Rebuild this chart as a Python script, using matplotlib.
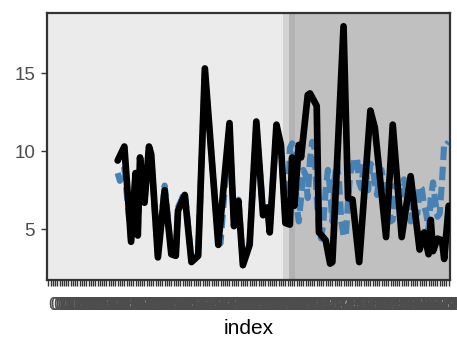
import matplotlib
matplotlib.use("Agg")
import matplotlib.pyplot as plt

plt.rcParams['font.family'] = ['Liberation Sans', 'DejaVu Sans']

n_categories = 180
tick_labels = [f"{i:03d}" for i in range(n_categories)]

black_x = [32, 35, 38, 40, 41, 42, 44, 46, 47, 50, 53, 56, 58, 59, 62, 65, 68, 71, 77, 82,
           84, 86, 88, 91, 94, 97, 99, 100, 103, 105, 107, 109, 110, 111, 113, 114, 117, 118,
           121, 122, 125, 127, 128, 133, 135, 137, 140, 145, 147, 152, 155, 159, 163, 167,
           169, 171, 172, 173, 175, 177, 178, 180]
black_y = [9.4, 10.3, 4.2, 8.6, 4.6, 9.6, 6.7, 10.3, 9.8, 3.2, 7.5, 3.4, 3.3, 6.2, 7.2, 2.9,
           3.3, 15.3, 4.0, 11.8, 5.2, 6.8, 2.7, 4.0, 11.9, 5.9, 6.4, 4.8, 11.7, 10.4, 5.4, 5.3,
           9.6, 6.5, 10.4, 9.6, 13.6, 13.7, 12.9, 4.8, 4.3, 2.8, 2.9, 18.0, 7.0, 6.9, 2.9,
           12.6, 11.5, 4.5, 11.7, 4.5, 8.4, 3.7, 4.8, 3.4, 5.6, 3.6, 4.4, 4.3, 3.1, 6.5]

blue_x = [32, 33, 35, 38, 40, 41, 42, 44, 46, 47, 50, 53, 56, 58, 59, 62, 65, 68, 71, 77, 78,
          82, 84, 86, 88, 91, 94, 97, 99, 100, 103, 105, 107,
          108, 109, 110, 111, 112, 113, 114, 115, 116, 117, 118, 119, 120, 121, 122, 123, 124,
          125, 126, 127, 128, 129, 130, 131, 132, 133, 134, 135, 136, 137, 138, 139, 140, 141,
          142, 143, 144, 145, 146, 147, 148, 149, 150, 151, 152, 153, 154, 155, 156, 157, 158,
          159, 160, 161, 162, 163, 164, 165, 166, 167, 168, 169, 170, 171, 172, 173, 174, 175,
          176, 177, 178, 179, 180]
blue_y = [8.6, 8.1, 8.9, 4.3, 8.6, 4.7, 8.9, 6.8, 10.0, 9.6, 3.3, 7.8, 3.5, 3.4, 6.4, 7.4, 3.0,
          3.4, 15.0, 4.2, 4.1, 11.6, 5.4, 6.9, 2.9, 4.1, 11.7, 6.1, 6.6, 5.0, 11.5, 10.2, 5.6,
          6.0, 10.2, 10.5, 10.3, 6.5, 5.5, 7.0, 8.8, 8.5, 7.0, 9.5, 10.6, 10.2, 7.0, 5.0, 4.4,
          5.5, 7.5, 8.8, 7.5, 5.5, 8.2, 9.3, 8.0, 5.5, 4.6, 4.5, 6.8, 8.6, 9.0, 9.5, 9.6, 8.0,
          7.6, 9.3, 8.8, 7.5, 9.2, 9.0, 8.0, 7.2, 8.5, 8.8, 7.8, 7.6, 7.8, 5.5, 5.6, 7.8, 7.6,
          8.0, 7.2, 8.2, 7.5, 6.0, 5.5, 6.5, 6.2, 6.0, 7.8, 7.6, 6.5, 6.0, 5.0, 7.0, 8.0, 6.8,
          5.8, 6.0, 8.0, 10.5, 10.4, 10.6]

# shaded regions (category index ranges) and their fills
region_edges = [0.4, 106.0, 108.6, 111.3, n_categories + 0.6]
region_colors = ['#ebebeb', '#d3d3d3', '#b3b3b3', '#c0c0c0']

fig = plt.figure(figsize=(4.57, 3.44), dpi=100)
ax = fig.add_axes([0.1028, 0.186, 0.8819, 0.7762])

for (a, b), c in zip(zip(region_edges[:-1], region_edges[1:]), region_colors):
    ax.axvspan(a, b, color=c, lw=0, zorder=0)

ax.plot(blue_x, blue_y, color='#4682b4', lw=4.4, dashes=(2.2, 1.1),
        solid_capstyle='butt', dash_capstyle='butt', zorder=2)
ax.plot(black_x, black_y, color='black', lw=4.8, solid_joinstyle='round',
        solid_capstyle='round', zorder=3)

ax.set_xlim(region_edges[0], region_edges[-1])
ax.set_ylim(1.75, 18.85)
ax.set_xticks(range(1, n_categories + 1))
ax.set_xticklabels(tick_labels, fontsize=13, color='#4d4d4d', ha='left')
ax.set_yticks([5, 10, 15])
ax.set_yticklabels(['5', '10', '15'], fontsize=13.5, color='#4d4d4d')
ax.tick_params(axis='both', color='#333333', length=4.5, width=1.0)
ax.tick_params(axis='x', pad=8)
ax.tick_params(axis='y', pad=4)
for s in ax.spines.values():
    s.set_color('#333333')
    s.set_linewidth(1.6)
ax.set_xlabel('index', fontsize=15, color='black', labelpad=3.5)

fig.savefig('out.png', dpi=100)
